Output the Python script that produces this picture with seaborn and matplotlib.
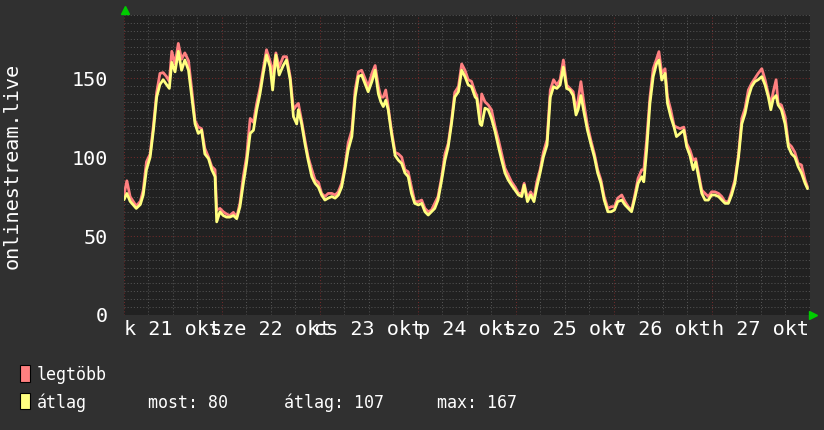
import numpy as np
import pandas as pd
import matplotlib
matplotlib.use("Agg")
import matplotlib.pyplot as plt
import seaborn as sns
from matplotlib.patches import Rectangle

# ---------------- data (hours since Tue 21 Oct 00:00) ----------------
hours = [0.0, 0.7, 1.5, 3.0, 4.0, 4.7, 5.5, 6.4, 7.2, 8.0, 8.8, 9.6, 10.4, 11.1, 11.7,
         12.5, 13.3, 14.1, 14.9, 15.8, 16.6, 17.4, 18.2, 19.0, 19.8, 20.7, 21.5, 22.3,
         22.7, 23.5, 24.3, 25.1, 25.9, 26.8, 27.6, 28.4, 29.2, 30.0, 30.9, 31.7, 32.5,
         33.3, 34.1, 34.9, 35.8, 36.4, 37.2, 38.0, 39.0, 39.8, 40.7, 41.5, 42.3, 42.7,
         43.5, 44.3, 45.1, 46.0, 46.8, 47.6, 48.4, 49.2, 50.0, 50.9, 51.7, 52.5, 53.3,
         54.1, 54.9, 55.8, 56.6, 57.4, 58.2, 59.0, 59.8, 60.7, 61.5, 62.3, 62.9, 63.5,
         64.1, 64.7, 65.5, 66.4, 67.2, 68.0, 68.8, 69.6, 70.4, 71.2, 72.1, 72.9, 73.7,
         74.5, 75.3, 76.1, 76.9, 77.8, 78.6, 79.4, 80.2, 81.0, 81.9, 82.7, 83.5, 84.3,
         85.1, 86.0, 86.4, 87.2, 87.6, 88.4, 89.2, 90.0, 90.9, 91.7, 92.5, 93.3, 94.1,
         94.9, 95.8, 96.6, 97.4, 98.0, 98.8, 99.6, 100.4, 101.1, 101.9, 102.7, 103.6,
         104.4, 105.2, 106.0, 106.8, 107.6, 108.4, 109.2, 110.0, 110.7, 111.2, 111.9,
         112.7, 113.5, 114.3, 115.2, 116.0, 116.8, 117.6, 118.5, 119.3, 120.1, 120.9,
         121.9, 122.7, 123.5, 124.3, 125.1, 125.9, 126.8, 127.3, 128.0, 128.8, 129.6,
         130.4, 131.0, 131.7, 132.5, 133.1, 133.9, 134.7, 135.3, 136.2, 137.1, 137.8,
         138.6, 139.4, 140.0, 140.7, 141.5, 142.3, 143.1, 143.9, 144.7, 145.6, 146.4,
         147.2, 148.0, 148.8, 149.6, 150.5, 151.3, 152.1, 152.9, 153.7, 154.5, 155.3,
         156.2, 157.0, 157.8, 158.4, 159.0, 159.7, 160.2, 161.0, 161.9, 162.7, 163.5,
         164.3, 165.1, 165.9, 166.8, 167.4]

atlag = [73, 77, 72, 67.5, 70, 76, 92, 100, 117, 138, 146, 149, 146, 143.5, 160,
         154, 167, 155, 161.5, 155, 138, 121, 115, 117, 102, 99, 92, 87.6,
         59, 65.4, 63, 62, 62, 63, 61, 68.6, 83, 96, 115, 117, 130,
         140, 153, 164.7, 157, 142.5, 164.7, 152, 158, 161.5, 149, 125.6, 121, 130,
         121, 108.7, 98, 87.6, 83.4, 81, 76, 72.8, 74, 75, 74, 76, 81,
         92, 104.5, 113, 138, 151, 152, 146.7, 141.4, 147.8, 155, 140, 135, 132,
         136, 130, 115, 101, 98, 96, 90, 87.6, 77, 70.7, 69.7, 70.7, 65.4,
         63.3, 65.4, 67.5, 72.8, 85.5, 98, 106.6, 121, 138, 141.4, 155, 151, 145.7,
         144.6, 138, 137, 121, 120, 131, 130, 124.5, 116, 106.6, 98, 90, 85.5,
         82.3, 79, 76, 75, 82.3, 71.8, 76, 71.8, 81, 90, 100, 107.7,
         138, 144.6, 143.5, 145.7, 157, 143.5, 142.5, 139, 126.7, 130, 139,
         127.7, 117, 108.7, 100, 90, 83.4, 72.8, 65.4, 65.4, 66.5, 71.8,
         72.8, 69.7, 67.5, 65.4, 74, 83.4, 87.6, 84.4, 104.5, 134, 151,
         159, 161.5, 148.8, 153, 134, 125.6, 119, 113, 115, 117, 106.6,
         101, 92, 97, 87.6, 77, 72.8, 72.8, 76, 76, 75, 72.8,
         70.7, 70.7, 76, 83.4, 100, 121, 127.7, 138, 144.6, 147.8, 149,
         151, 145.7, 138, 130, 137, 139, 133, 130, 121, 106.6, 102,
         100, 94, 90, 83.4, 80]

legtobb = [76, 85, 75, 69, 72, 79, 97, 102, 120, 141, 153, 153.5, 151, 148, 167,
           159, 172, 162, 166, 161, 142.5, 123, 119, 118, 105.5, 100, 94, 92,
           66.5, 67.5, 65.4, 64, 63, 65, 62, 71, 87.5, 100, 124.5, 122, 134,
           143.5, 156, 168, 160.5, 153, 166, 157, 163.6, 163.6, 151, 130, 133, 134,
           123, 111, 100, 92, 85.5, 84, 77, 75, 77, 77, 76, 78, 83.4,
           94, 109, 117, 142.5, 154, 155, 150, 144.6, 153, 158, 144.6, 138, 138,
           142.5, 132, 117, 103, 102, 100, 92, 90.7, 81, 71.8, 71.8, 72.8, 67.5,
           65.4, 66.5, 70.7, 75, 87.6, 102, 108.7, 123, 141, 144.6, 159, 155, 149,
           148, 141, 139, 124.5, 140, 135, 133, 130, 119, 111, 102, 93, 88.7,
           84.4, 81, 77, 77, 83.4, 74, 78, 74, 84.4, 92, 103, 111,
           142.5, 149, 145.7, 149, 161.5, 145.7, 143.5, 141.4, 130, 136, 147.8,
           133, 120, 111, 102, 92, 85.5, 75, 67.5, 68.6, 68.6, 74,
           76, 71.8, 68.6, 66.5, 76, 86.6, 92, 92, 111, 138, 156,
           162, 166.8, 153, 156, 138, 130, 120, 119, 118, 119, 108.7,
           104.5, 98, 99, 90, 79, 77, 75, 78, 78, 77, 75,
           71.8, 71.8, 78, 85.5, 102, 124.5, 131, 142.5, 146.7, 149.9, 153,
           156, 149, 140, 133, 141.4, 149, 134, 133, 125.6, 108.7, 106.6,
           103, 96, 95, 85.5, 81]

day_labels = ["k 21 okt", "sze 22 okt", "cs 23 okt", "p 24 okt",
              "szo 25 okt", "v 26 okt", "h 27 okt"]
y_ticks = [0, 50, 100, 150]
y_title = "onlinestream.live"
series_names = ["legtöbb", "átlag"]
stat_texts = ["most: 80", "átlag: 107", "max: 167"]

# ---------------- style ----------------
BG = "#303030"
PLOT_BG = "#212121"
PINK = "#ff8080"
YELLOW = "#ffff80"
GRID_MINOR = "#525252"
GRID_MAJOR = "#6e2a2a"
TXT = "#ffffff"
ARROW = "#00cc00"

sns.set_theme(style="dark")
plt.rcParams["font.family"] = ["DejaVu Sans Mono", "DejaVu Sans"]

W, H = 824, 430
fig = plt.figure(figsize=(W / 100, H / 100), dpi=100, facecolor=BG)
ax = fig.add_axes([124 / W, 1 - 315 / H, 686 / W, 300 / H])
ax.set_facecolor(PLOT_BG)
for s in ax.spines.values():
    s.set_visible(False)

# grid (RRD-like dotted)
for h in range(0, 169, 6):
    ax.axvline(h, color=GRID_MAJOR if h % 24 == 0 else GRID_MINOR,
               lw=0.75, ls=(0, (1, 2)), zorder=1)
for v in range(0, 191, 5):
    ax.axhline(v, color=GRID_MAJOR if v % 50 == 0 else GRID_MINOR,
               lw=0.75, ls=(0, (1, 2)), zorder=1)

df = pd.DataFrame({"t": hours, series_names[0]: legtobb, series_names[1]: atlag})
sns.lineplot(data=df, x="t", y=series_names[0], ax=ax, color=PINK, lw=2,
             estimator=None, zorder=3)
sns.lineplot(data=df, x="t", y=series_names[1], ax=ax, color=YELLOW, lw=2,
             estimator=None, zorder=4)

ax.set_xlim(0, 168)
ax.set_ylim(0, 190)
ax.set_xlabel("")
ax.set_ylabel("")
ax.set_xticks([12 + 24 * i for i in range(len(day_labels))], labels=day_labels)
ax.set_yticks(y_ticks, labels=[str(v) for v in y_ticks])
ax.tick_params(axis="both", length=0, colors=TXT, labelsize=14.5)
ax.tick_params(axis="x", pad=3.5)
ax.tick_params(axis="y", pad=11.5)
ax.grid(False)

# arrows at axis ends
ax.plot([0.002], [1.016], marker="^", color=ARROW, ms=5.5, transform=ax.transAxes,
        clip_on=False, zorder=6)
ax.plot([1.005], [0.0], marker=">", color=ARROW, ms=5.5, transform=ax.transAxes,
        clip_on=False, zorder=6)

# vertical title
fig.text(12 / W, 1 - 166 / H, y_title, rotation=90, ha="center", va="center",
         color=TXT, fontsize=14.5)

# legend
def fx(px):
    return px / W

def fy(py):
    return 1 - py / H

for (top, bot), col in zip([(365, 382), (393, 409)], [PINK, YELLOW]):
    fig.patches.append(Rectangle((fx(20), fy(bot)), fx(10), (bot - top) / H,
                                 transform=fig.transFigure, facecolor=col,
                                 edgecolor="black", lw=0.8))
LEG_FS = 12
fig.text(fx(37), fy(380), series_names[0], color=TXT, fontsize=LEG_FS, va="baseline")
fig.text(fx(37), fy(408), series_names[1], color=TXT, fontsize=LEG_FS, va="baseline")
for x0, s in zip([148, 284, 437], stat_texts):
    fig.text(fx(x0), fy(408), s, color=TXT, fontsize=LEG_FS, va="baseline")

fig.savefig("out.png", dpi=100, facecolor=BG)
